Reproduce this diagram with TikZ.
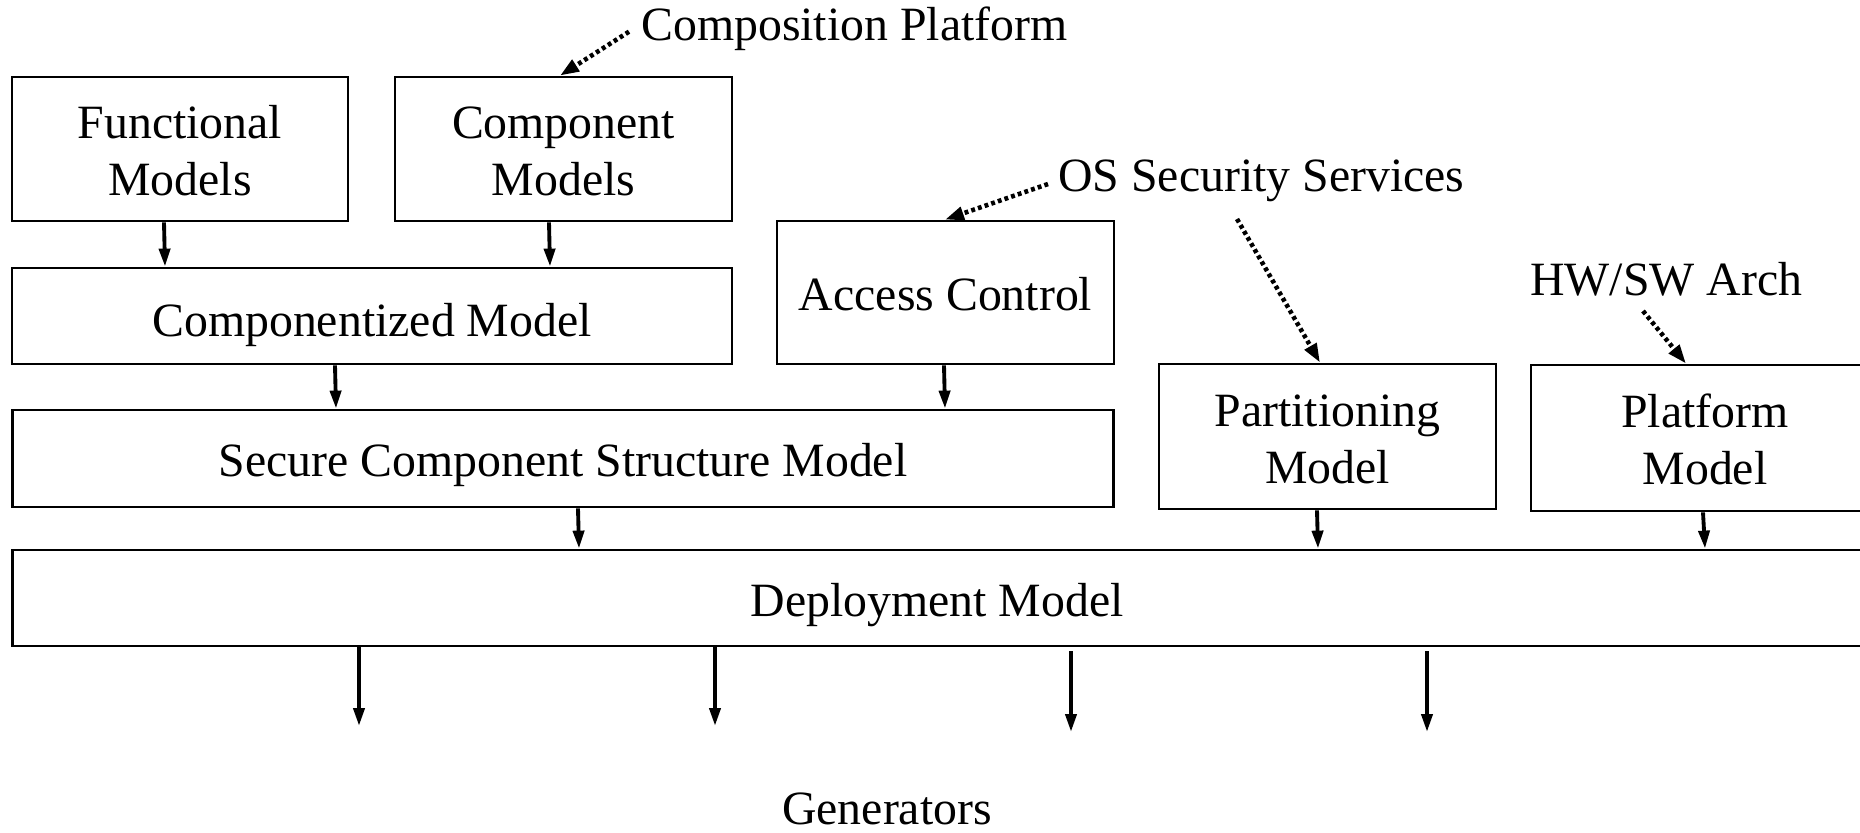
\documentclass[tikz,border=0pt]{standalone}
\usepackage{fontspec}
\setmainfont{Liberation Serif}
\usetikzlibrary{arrows.meta,calc}
% raises the first line of a two-line box label
\newcommand\firstline{\rule{0pt}{0.77em}}
\begin{document}
\begin{tikzpicture}[x=0.02cm,y=-0.02cm,
  font=\fontsize{27.2}{32.6}\selectfont,
  box/.style={draw,line width=1.6pt,rectangle,inner sep=0pt,align=center},
  lbl/.style={inner sep=0pt},
  arr/.style={line width=2.2pt,-{Triangle[length=0.36cm,width=0.22cm]}},
  dotarr/.style={line width=2.6pt,dash pattern=on 2.2pt off 1.8pt,-{Triangle[length=0.38cm,width=0.26cm]}}]
\useasboundingbox (0,0) rectangle (1860,832);
\clip (0,0) rectangle (1860,832);

% model boxes
\node[box,minimum width=6.72cm,minimum height=2.88cm] (func) at (180,149) {\firstline Functional\\Models};
\node[box,minimum width=6.74cm,minimum height=2.88cm] (compm) at (563.5,149) {\firstline Component\\Models};
\node[box,minimum width=14.4cm,minimum height=1.92cm,text height=0.828cm,text depth=0pt] (czd) at (372,316) {Componentized Model};
\node[box,minimum width=6.74cm,minimum height=2.86cm,text height=0.728cm,text depth=0pt] (acc) at (945.5,292.5) {Access Control};
\node[box,minimum width=22.04cm,minimum height=1.94cm,text height=0.728cm,text depth=0pt] (scsm) at (563,458.5) {Secure Component Structure Model};
\node[box,minimum width=6.74cm,minimum height=2.9cm] (part) at (1327.5,436.5) {\firstline Partitioning\\Model};
\node[box,minimum width=6.96cm,minimum height=2.92cm] (plat) at (1705,438) {\firstline Platform\\Model};
\node[box,minimum width=37.0cm,minimum height=1.92cm,text height=0.748cm,text depth=0pt] (dep) at (937,598) {Deployment Model};

% external inputs and the generator label
\node[lbl,anchor=base west] (cplat) at (641,40.7) {Composition Platform};
\node[lbl,anchor=base west] (ossec) at (1058,191) {OS Security Services};
\node[lbl,anchor=base west] (hwsw) at (1530,295) {HW/SW Arch};
\node[lbl,anchor=base] (gen) at (887,824) {Generators};

% dotted input arrows
\draw[dotarr] ($(cplat.base west)+(-12,-9)$) -- (compm.north -| 560,0);
\draw[dotarr] ($(ossec.base west)+(-10,-7)$) -- (acc.north -| 945,0);
\draw[dotarr] ($(ossec.base west)+(179,28)$) -- (part.north -| 1320,0);
\draw[dotarr] ($(hwsw.base west)+(113,16)$) -- (plat.north -| 1686,0);

% model flow
\draw[arr] (func.south -| 164,0) -- (czd.north -| 165,0);
\draw[arr] (compm.south -| 549,0) -- (czd.north -| 550,0);
\draw[arr] (czd.south -| 335,0) -- (scsm.north -| 336,0);
\draw[arr] (acc.south -| 944,0) -- (scsm.north -| 945,0);
\draw[arr] (scsm.south -| 578,0) -- (dep.north -| 579,0);
\draw[arr] (part.south -| 1317,0) -- (dep.north -| 1318,0);
\draw[arr] (plat.south -| 1703,0) -- (dep.north -| 1705,0);

% outputs to generators
\coordinate (g1) at (359,726);
\coordinate (g2) at (715,726);
\coordinate (g3) at (1071,732);
\coordinate (g4) at (1427,732);
\coordinate (s3) at (1071,651);
\coordinate (s4) at (1427,651);
\draw[arr] (dep.south -| g1) -- (g1);
\draw[arr] (dep.south -| g2) -- (g2);
\draw[arr] (s3) -- (g3);
\draw[arr] (s4) -- (g4);
\end{tikzpicture}
\end{document}
